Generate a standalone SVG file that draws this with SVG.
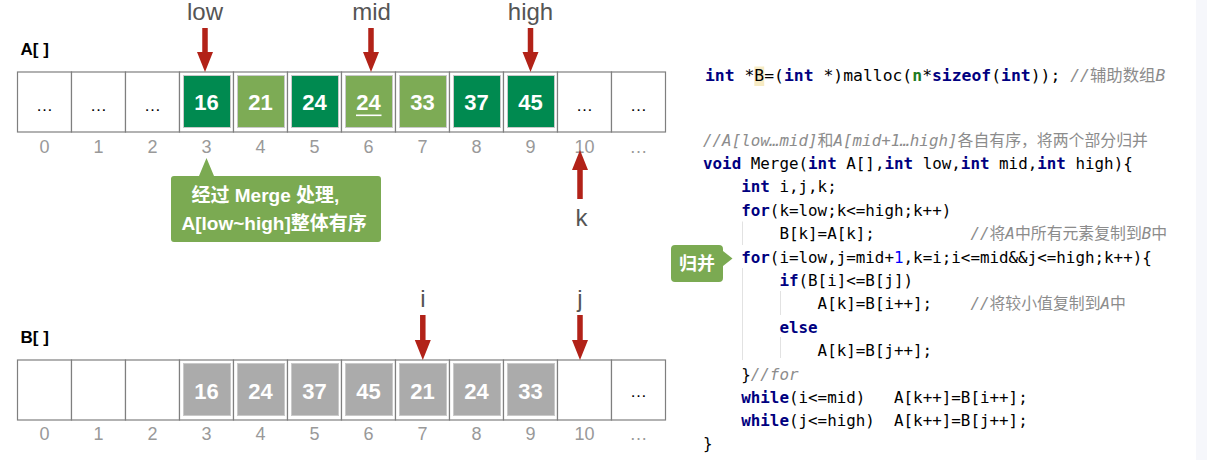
<svg xmlns="http://www.w3.org/2000/svg" width="1207" height="460" viewBox="0 0 1207 460">
<style>
.cell{fill:#fff;stroke:#7f7f7f;stroke-width:1.2}
.box{stroke:#c9c9c9;stroke-width:1}
.dg{fill:#008A50}
.lg{fill:#7DAB55}
.gy{fill:#ABABAB}
.num{font-family:"Liberation Sans",Arial,sans-serif;font-weight:bold;font-size:22px;fill:#fff;text-anchor:middle}
.dots{font-family:"Liberation Sans",Arial,sans-serif;font-size:17px;fill:#000;text-anchor:middle}
.idx{font-family:"Liberation Sans",Arial,sans-serif;font-size:18px;fill:#999;text-anchor:middle}
.lbl{font-family:"Liberation Sans",Arial,sans-serif;font-size:24px;fill:#555;text-anchor:middle}
.arr{font-family:"Liberation Sans",Arial,sans-serif;font-weight:bold;font-size:17px;fill:#000}
.ptr{fill:#B22218}
.call{fill:#7BAA52}
.ctext{font-family:"Liberation Sans","Noto Sans CJK SC",sans-serif;font-weight:bold;font-size:19px;fill:#fff}
.code{font-family:"DejaVu Sans Mono","Noto Sans CJK SC",monospace;font-size:15.86px;fill:#000}
.kw{font-weight:bold;fill:#000080}
.gv{font-weight:bold;fill:#1F7A1F}
.nm{fill:#0000FF}
.cm{font-style:italic;fill:#8C8C8C}
.cmc{font-style:normal;fill:#8C8C8C}
.guide{stroke:#e2e2e2;stroke-width:1}
</style>

<rect x="1196" y="0" width="11" height="460" fill="#F6F7FB"/>

<g id="label-A"><text class="arr" x="20.5" y="55">A[ ]</text></g>
<g id="label-B"><text class="arr" x="20.5" y="342.5">B[ ]</text></g>

<g id="array-A">
  <g id="a0"><rect class="cell" x="17.5" y="72" width="54" height="60"/><text class="dots" x="44.5" y="110.5">…</text></g>
  <g id="a1"><rect class="cell" x="71.5" y="72" width="54" height="60"/><text class="dots" x="98.5" y="110.5">…</text></g>
  <g id="a2"><rect class="cell" x="125.5" y="72" width="54" height="60"/><text class="dots" x="152.5" y="110.5">…</text></g>
  <g id="a3"><rect class="cell" x="179.5" y="72" width="54" height="60"/><rect class="box dg" x="183.5" y="75.5" width="47" height="52"/><text class="num" x="206.5" y="110">16</text></g>
  <g id="a4"><rect class="cell" x="233.5" y="72" width="54" height="60"/><rect class="box lg" x="237.5" y="75.5" width="47" height="52"/><text class="num" x="260.5" y="110">21</text></g>
  <g id="a5"><rect class="cell" x="287.5" y="72" width="54" height="60"/><rect class="box dg" x="291.5" y="75.5" width="47" height="52"/><text class="num" x="314.5" y="110">24</text></g>
  <g id="a6"><rect class="cell" x="341.5" y="72" width="54" height="60"/><rect class="box lg" x="345.5" y="75.5" width="47" height="52"/><text class="num" x="368.5" y="110">24</text><rect x="356" y="114.5" width="25.5" height="1.6" fill="#fff"/></g>
  <g id="a7"><rect class="cell" x="395.5" y="72" width="54" height="60"/><rect class="box lg" x="399.5" y="75.5" width="47" height="52"/><text class="num" x="422.5" y="110">33</text></g>
  <g id="a8"><rect class="cell" x="449.5" y="72" width="54" height="60"/><rect class="box dg" x="453.5" y="75.5" width="47" height="52"/><text class="num" x="476.5" y="110">37</text></g>
  <g id="a9"><rect class="cell" x="503.5" y="72" width="54" height="60"/><rect class="box dg" x="507.5" y="75.5" width="47" height="52"/><text class="num" x="530.5" y="110">45</text></g>
  <g id="a10"><rect class="cell" x="557.5" y="72" width="54" height="60"/><text class="dots" x="584.5" y="110.5">…</text></g>
  <g id="a11"><rect class="cell" x="611.5" y="72" width="54" height="60"/><text class="dots" x="638.5" y="110.5">…</text></g>
</g>

<g id="index-A">
  <text class="idx" x="44.5" y="153">0</text><text class="idx" x="98.5" y="153">1</text><text class="idx" x="152.5" y="153">2</text>
  <text class="idx" x="206.5" y="153">3</text><text class="idx" x="260.5" y="153">4</text><text class="idx" x="314.5" y="153">5</text>
  <text class="idx" x="368.5" y="153">6</text><text class="idx" x="422.5" y="153">7</text><text class="idx" x="476.5" y="153">8</text>
  <text class="idx" x="530.5" y="153">9</text><text class="idx" x="584.5" y="153">10</text><text class="idx" x="638.5" y="153">…</text>
</g>

<g id="array-B">
  <g id="b0"><rect class="cell" x="17.5" y="360" width="54" height="60"/></g>
  <g id="b1"><rect class="cell" x="71.5" y="360" width="54" height="60"/></g>
  <g id="b2"><rect class="cell" x="125.5" y="360" width="54" height="60"/></g>
  <g id="b3"><rect class="cell" x="179.5" y="360" width="54" height="60"/><rect class="box gy" x="183.5" y="363.5" width="47" height="52"/><text class="num" x="206.5" y="398.5">16</text></g>
  <g id="b4"><rect class="cell" x="233.5" y="360" width="54" height="60"/><rect class="box gy" x="237.5" y="363.5" width="47" height="52"/><text class="num" x="260.5" y="398.5">24</text></g>
  <g id="b5"><rect class="cell" x="287.5" y="360" width="54" height="60"/><rect class="box gy" x="291.5" y="363.5" width="47" height="52"/><text class="num" x="314.5" y="398.5">37</text></g>
  <g id="b6"><rect class="cell" x="341.5" y="360" width="54" height="60"/><rect class="box gy" x="345.5" y="363.5" width="47" height="52"/><text class="num" x="368.5" y="398.5">45</text></g>
  <g id="b7"><rect class="cell" x="395.5" y="360" width="54" height="60"/><rect class="box gy" x="399.5" y="363.5" width="47" height="52"/><text class="num" x="422.5" y="398.5">21</text></g>
  <g id="b8"><rect class="cell" x="449.5" y="360" width="54" height="60"/><rect class="box gy" x="453.5" y="363.5" width="47" height="52"/><text class="num" x="476.5" y="398.5">24</text></g>
  <g id="b9"><rect class="cell" x="503.5" y="360" width="54" height="60"/><rect class="box gy" x="507.5" y="363.5" width="47" height="52"/><text class="num" x="530.5" y="398.5">33</text></g>
  <g id="b10"><rect class="cell" x="557.5" y="360" width="54" height="60"/></g>
  <g id="b11"><rect class="cell" x="611.5" y="360" width="54" height="60"/><text class="dots" x="638.5" y="397">…</text></g>
</g>

<g id="index-B">
  <text class="idx" x="44.5" y="440">0</text><text class="idx" x="98.5" y="440">1</text><text class="idx" x="152.5" y="440">2</text>
  <text class="idx" x="206.5" y="440">3</text><text class="idx" x="260.5" y="440">4</text><text class="idx" x="314.5" y="440">5</text>
  <text class="idx" x="368.5" y="440">6</text><text class="idx" x="422.5" y="440">7</text><text class="idx" x="476.5" y="440">8</text>
  <text class="idx" x="530.5" y="440">9</text><text class="idx" x="584.5" y="440">10</text><text class="idx" x="638.5" y="440">…</text>
</g>

<g id="pointer-labels">
  <text class="lbl" x="205" y="20">low</text>
  <text class="lbl" x="371.5" y="20">mid</text>
  <text class="lbl" x="530.5" y="20">high</text>
  <text class="lbl" x="581.5" y="226">k</text>
  <text class="lbl" x="422.8" y="307">i</text>
  <text class="lbl" x="580" y="307">j</text>
</g>

<g id="connectors">
  <polygon class="ptr" points="202.25,28 207.75,28 207.75,52 213,52 205,72 197,52 202.25,52"/>
  <polygon class="ptr" points="368.25,28 373.75,28 373.75,52 379,52 371,72 363,52 368.25,52"/>
  <polygon class="ptr" points="527.75,28 533.25,28 533.25,52 538.5,52 530.5,72 522.5,52 527.75,52"/>
  <polygon class="ptr" points="577.25,199 582.75,199 582.75,170 588,170 580,150 572,170 577.25,170"/>
  <polygon class="ptr" points="420.05,315 425.55,315 425.55,340 430.8,340 422.8,360 414.8,340 420.05,340"/>
  <polygon class="ptr" points="577.25,315 582.75,315 582.75,340 588,340 580,360 572,340 577.25,340"/>
</g>

<g id="callout-merge">
  <path class="call" d="M174,176 H199 L206.5,158 L214,176 H378 Q381,176 381,179 V239 Q381,242 378,242 H174 Q171,242 171,239 V179 Q171,176 174,176 Z"/>
  <text class="ctext" x="191.5" y="201.5">经过 Merge 处理,</text>
  <text class="ctext" x="181.5" y="229.5">A[low~high]整体有序</text>
</g>

<g id="callout-guibing">
  <path class="call" d="M675,245 H719 Q723,245 723,249 V251 L732.5,258.5 L723,266 V278 Q723,282 719,282 H675 Q671,282 671,278 V249 Q671,245 675,245 Z"/>
  <text class="ctext" x="697" y="270" text-anchor="middle" style="font-size:18px">归并</text>
</g>

<g id="code">
  <rect x="754.3" y="66.5" width="9.9" height="19.5" fill="#F7EBC3"/>
  <g id="guides">
    <line class="guide" x1="742.5" y1="221.5" x2="742.5" y2="245"/>
    <line class="guide" x1="742.5" y1="268" x2="742.5" y2="360"/>
    <line class="guide" x1="780.5" y1="291" x2="780.5" y2="315"/>
    <line class="guide" x1="780.5" y1="337" x2="780.5" y2="358"/>
  </g>
  <text class="code" x="705" y="80.5" style="font-size:16.4px"><tspan class="kw">int</tspan> *B=(<tspan class="kw">int</tspan> *)malloc(<tspan class="gv">n</tspan>*<tspan class="kw">sizeof</tspan>(<tspan class="kw">int</tspan>)); <tspan class="cm">//</tspan><tspan class="cmc">辅助数组</tspan><tspan class="cm">B</tspan></text>
  <text class="code" x="703" y="145.5"><tspan class="cm">//A[low…mid]</tspan><tspan class="cmc">和</tspan><tspan class="cm">A[mid+1…high]</tspan><tspan class="cmc">各自有序，将两个部分归并</tspan></text>
  <text class="code" x="703" y="169"><tspan class="kw">void</tspan> Merge(<tspan class="kw">int</tspan> A[],<tspan class="kw">int</tspan> low,<tspan class="kw">int</tspan> mid,<tspan class="kw">int</tspan> high){</text>
  <text class="code" x="741.2" y="192.3"><tspan class="kw">int</tspan> i,j,k;</text>
  <text class="code" x="741.2" y="215.7"><tspan class="kw">for</tspan>(k=low;k&lt;=high;k++)</text>
  <text class="code" x="779.4" y="239">B[k]=A[k];<tspan class="cm" x="970.4">//</tspan><tspan class="cmc">将</tspan><tspan class="cm">A</tspan><tspan class="cmc">中所有元素复制到</tspan><tspan class="cm">B</tspan><tspan class="cmc">中</tspan></text>
  <text class="code" x="741.2" y="262.5"><tspan class="kw">for</tspan>(i=low,j=mid+<tspan class="nm">1</tspan>,k=i;i&lt;=mid&amp;&amp;j&lt;=high;k++){</text>
  <text class="code" x="779.4" y="286"><tspan class="kw">if</tspan>(B[i]&lt;=B[j])</text>
  <text class="code" x="817.6" y="309.3">A[k]=B[i++];<tspan class="cm" x="970.4">//</tspan><tspan class="cmc">将较小值复制到</tspan><tspan class="cm">A</tspan><tspan class="cmc">中</tspan></text>
  <text class="code" x="779.4" y="332.7"><tspan class="kw">else</tspan></text>
  <text class="code" x="817.6" y="356">A[k]=B[j++];</text>
  <text class="code" x="741.2" y="379.5">}<tspan class="cm">//for</tspan></text>
  <text class="code" x="741.2" y="403"><tspan class="kw">while</tspan>(i&lt;=mid)<tspan x="894">A[k++]=B[i++];</tspan></text>
  <text class="code" x="741.2" y="426.3"><tspan class="kw">while</tspan>(j&lt;=high)<tspan x="894">A[k++]=B[j++];</tspan></text>
  <text class="code" x="703" y="449">}</text>
</g>
</svg>
